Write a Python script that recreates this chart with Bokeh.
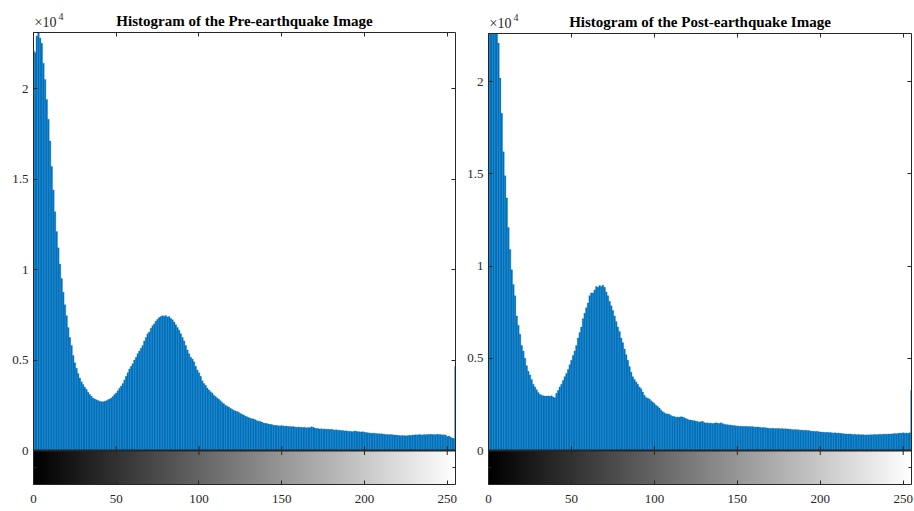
import numpy as np
from bokeh.plotting import figure
from bokeh.models import LinearAxis, FixedTicker, Range1d, Span
from bokeh.core.properties import value
from bokeh.layouts import row, column
from bokeh.embed import file_html
from bokeh.resources import INLINE
from bokeh.palettes import Greys256

bins = list(range(256))

pre_counts = [
    22100, 22000, 22900, 23200, 22800, 22500, 21400, 20500, 19400, 18300,
    17100, 15700, 14400, 13200, 12100, 11200, 10300, 9500, 8750, 8050,
    7450, 6800, 6250, 5800, 5250, 4850, 4550, 4250, 4000, 3800,
    3650, 3500, 3370, 3220, 3100, 3000, 2900, 2850, 2800, 2760,
    2720, 2700, 2690, 2720, 2750, 2800, 2840, 2900, 2980, 3100,
    3180, 3300, 3440, 3560, 3700, 3900, 4100, 4300, 4500, 4650,
    4800, 5000, 5150, 5350, 5500, 5650, 5800, 6050, 6250, 6450,
    6550, 6750, 6900, 7000, 7150, 7250, 7350, 7400, 7450, 7420,
    7460, 7380, 7400, 7300, 7220, 7100, 6950, 6800, 6650, 6450,
    6250, 6050, 5800, 5550, 5350, 5150, 5050, 4900, 4650, 4450,
    4300, 4100, 3850, 3700, 3600, 3450, 3350, 3250, 3180, 3050,
    2980, 2900, 2830, 2750, 2650, 2580, 2500, 2450, 2400, 2330,
    2280, 2220, 2180, 2150, 2120, 2050, 2000, 1960, 1900, 1860,
    1820, 1780, 1760, 1740, 1700, 1650, 1620, 1600, 1570, 1520,
    1500, 1490, 1460, 1450, 1430, 1400, 1390, 1380, 1370, 1360,
    1380, 1360, 1340, 1350, 1330, 1320, 1310, 1320, 1300, 1290,
    1300, 1280, 1290, 1270, 1280, 1250, 1270, 1260, 1310, 1280,
    1240, 1210, 1220, 1190, 1200, 1180, 1190, 1170, 1180, 1160,
    1170, 1150, 1130, 1140, 1120, 1120, 1100, 1110, 1080, 1090,
    1060, 1070, 1050, 1040, 1080, 1060, 1040, 1030, 1020, 1040,
    1010, 990, 980, 970, 960, 950, 960, 940, 930, 920,
    930, 910, 900, 890, 880, 870, 880, 870, 860, 850,
    840, 830, 820, 830, 820, 810, 820, 840, 830, 850,
    860, 870, 860, 880, 870, 860, 880, 870, 890, 880,
    900, 880, 890, 870, 900, 880, 890, 860, 870, 850,
    780, 800, 740, 690, 660, 4640,
]

post_counts = [
    24500, 24000, 23800, 23500, 23200, 23000, 22100, 20200, 18300, 16200,
    14900, 13700, 12100, 10900, 9800, 9000, 8400, 7300, 6800, 6300,
    5700, 5400, 5000, 4600, 4300, 4100, 3850, 3600, 3450, 3300,
    3150, 3050, 3000, 2970, 2950, 2950, 2960, 2940, 2970, 2900,
    2860, 3100, 3260, 3440, 3600, 3800, 4000, 4180, 4400, 4650,
    4900, 5150, 5400, 5700, 6100, 6400, 6700, 7150, 7450, 7750,
    8000, 8400, 8550, 8550, 8700, 8900, 8850, 8950, 8900, 8970,
    8850, 8600, 8400, 8100, 7850, 7600, 7300, 7000, 6700, 6450,
    6100, 5850, 5500, 5200, 4900, 4550, 4250, 4000, 3850, 3720,
    3600, 3450, 3350, 3180, 3000, 2880, 2840, 2800, 2700, 2630,
    2550, 2450, 2380, 2300, 2200, 2100, 2050, 2000, 1980, 1970,
    1900, 1860, 1840, 1810, 1820, 1810, 1830, 1820, 1780, 1730,
    1700, 1660, 1650, 1630, 1620, 1600, 1570, 1550, 1560, 1580,
    1520, 1490, 1500, 1480, 1490, 1470, 1480, 1500, 1490, 1470,
    1500, 1460, 1430, 1410, 1400, 1390, 1380, 1360, 1350, 1340,
    1330, 1320, 1310, 1320, 1300, 1310, 1300, 1300, 1290, 1300,
    1280, 1270, 1280, 1270, 1250, 1240, 1250, 1230, 1220, 1210,
    1200, 1210, 1200, 1190, 1200, 1190, 1180, 1190, 1170, 1180,
    1170, 1160, 1150, 1140, 1130, 1140, 1120, 1120, 1100, 1110,
    1090, 1100, 1080, 1090, 1060, 1050, 1040, 1030, 1040, 1020,
    1010, 1000, 990, 980, 990, 970, 980, 960, 950, 960,
    940, 950, 930, 920, 910, 900, 900, 890, 900, 880,
    870, 880, 860, 870, 860, 850, 860, 840, 850, 840,
    860, 850, 860, 870, 860, 870, 880, 870, 880, 890,
    880, 890, 900, 890, 910, 920, 910, 940, 950, 930,
    960, 940, 950, 940, 960, 3260,
]

titles = ["Histogram of the Pre-earthquake Image",
          "Histogram of the Post-earthquake Image"]
y_max = [23100, 22620]
x_ticks = [0, 50, 100, 150, 200, 250]
y_ticks = [0, 5000, 10000, 15000, 20000]
y_tick_labels = {0: "0", 5000: "0.5", 10000: "1", 15000: "1.5", 20000: "2"}
exp_base = "×10"
exp_power = "4"

FONT = "Liberation Serif"
AX = "#262626"
BLUE = "#0072BD"
FW = [422, 423]
MAIN_H = [418, 417]
CB_H = 34
TOP = [32, 33]
MAIN_TOP = 2
BOTTOM = 27


def make_axis(ticks, labels=False, tick_in=4, standoff=4, overrides=None):
    ax = LinearAxis(ticker=FixedTicker(ticks=ticks))
    ax.major_tick_in = tick_in
    ax.major_tick_out = 0
    ax.minor_tick_in = 0
    ax.minor_tick_out = 0
    ax.axis_line_color = AX
    ax.major_tick_line_color = AX
    ax.major_label_text_font = FONT
    if labels:
        ax.major_label_text_color = AX
        ax.major_label_text_font_size = "13px"
        ax.major_label_standoff = standoff
        if overrides:
            ax.major_label_overrides = overrides
    else:
        ax.major_label_text_color = None
        ax.major_label_text_font_size = "0px"
        ax.major_label_standoff = 0
    return ax


def header(i, bl, br):
    hh = TOP[i] - MAIN_TOP
    h = figure(width=bl + FW[i] + br, height=hh,
               x_range=Range1d(0, 255), y_range=Range1d(0, hh),
               output_backend="svg", toolbar_location=None,
               x_axis_location=None, y_axis_location=None,
               min_border_left=bl, min_border_right=br,
               min_border_top=0, min_border_bottom=0)
    h.grid.visible = False
    h.outline_line_color = None
    h.text(x=[127.5], y=[10], text=[titles[i]], text_align="center",
           text_baseline="alphabetic", text_font=value(FONT),
           text_font_style="bold", text_font_size="15px",
           text_color="black")
    h.text(x=[0], y=[8], text=[exp_base], x_offset=1, text_align="left",
           text_baseline="alphabetic", text_font=value(FONT),
           text_font_size="14px", text_color=AX)
    h.text(x=[0], y=[14], text=[exp_power], x_offset=25, text_align="left",
           text_baseline="alphabetic", text_font=value(FONT),
           text_font_size="10px", text_color=AX)
    return h


def panel(i, counts, bl, br):
    ymax = y_max[i]
    cb = ymax * CB_H / MAIN_H[i]
    p = figure(width=bl + FW[i] + br,
               height=MAIN_TOP + MAIN_H[i] + CB_H + BOTTOM,
               x_range=Range1d(0, 255), y_range=Range1d(-cb, ymax),
               output_backend="svg", toolbar_location=None,
               x_axis_location=None, y_axis_location=None,
               min_border_left=bl, min_border_right=br,
               min_border_top=MAIN_TOP, min_border_bottom=BOTTOM)
    p.grid.visible = False
    p.outline_line_color = None
    p.background_fill_color = "white"
    p.vbar(x=bins, top=counts, width=1.0, fill_color=BLUE,
           line_color=BLUE, line_width=0.3)
    # grey-level colour bar under the histogram
    p.image(image=[np.array([bins])], x=0, y=-cb, dw=255, dh=cb,
            palette=Greys256)
    p.add_layout(Span(location=0, dimension="width", line_color=AX,
                      line_width=2))
    # inward ticks on both sides of the histogram / colour-bar boundary
    p.scatter(x=x_ticks, y=[0] * len(x_ticks), marker="dash", size=9,
              angle=np.pi / 2, line_color=AX, line_width=1)
    p.scatter(x=[0, 255], y=[-cb / 2, -cb / 2], marker="dash", size=6,
              line_color=AX, line_width=1)
    p.add_layout(make_axis(y_ticks, True, standoff=5,
                           overrides=y_tick_labels), "left")
    p.add_layout(make_axis(y_ticks), "right")
    p.add_layout(make_axis(x_ticks), "above")
    p.add_layout(make_axis(x_ticks, True, standoff=10), "below")
    return column(header(i, bl, br), p, spacing=0)


left = panel(0, pre_counts, 33, 7)
right = panel(1, post_counts, 26, 3)
layout = row(left, right, spacing=0)

open("out.html", "w").write(file_html(layout, INLINE))
